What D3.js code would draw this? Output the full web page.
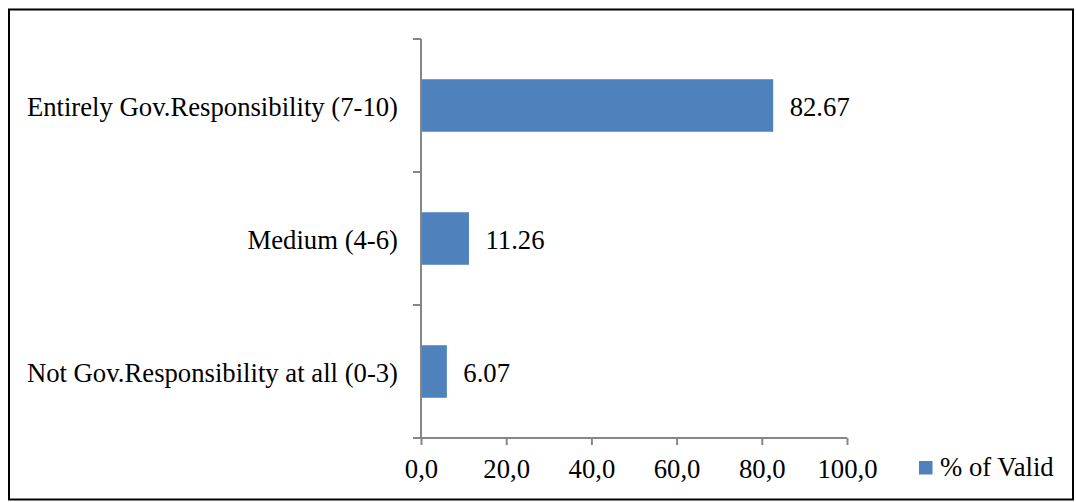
<!DOCTYPE html>
<html>
<head>
<meta charset="utf-8">
<script src="https://cdn.jsdelivr.net/npm/d3@7"></script>
<style>
  html, body { margin: 0; padding: 0; background: #fff; }
  svg { display: block; }
  svg text { font-family: "Liberation Serif", "Times New Roman", serif !important; fill: #000; }
</style>
</head>
<body>
<svg id="chart" width="1076" height="502"></svg>
<script>
// Responses, top to bottom
const categories = [
  "Entirely Gov.Responsibility (7-10)",
  "Medium (4-6)",
  "Not Gov.Responsibility at all (0-3)"
];
const values = [82.67, 11.26, 6.07];
const valueLabels = ["82.67", "11.26", "6.07"];
const xTicks = [0, 20, 40, 60, 80, 100];
const xTickLabels = ["0,0", "20,0", "40,0", "60,0", "80,0", "100,0"];
const seriesName = "% of Valid";

const svg = d3.select("#chart");
const barColor = "#4f81bd";
const axisColor = "#868686";
const fontSize = 26.7;

// outer frame
svg.append("rect")
  .attr("x", 9).attr("y", 9.5)
  .attr("width", 1064).attr("height", 490)
  .attr("fill", "none").attr("stroke", "#000").attr("stroke-width", 2);

const plot = { left: 421, right: 847, top: 39, bottom: 438 };

const x = d3.scaleLinear().domain([0, 100]).range([plot.left, plot.right]);
const y = d3.scaleBand().domain(categories).range([plot.top, plot.bottom]).padding(0);

const barH = y.bandwidth() * 0.395;

// bars
svg.append("g").selectAll("rect")
  .data(categories)
  .join("rect")
  .attr("x", x(0))
  .attr("y", d => y(d) + (y.bandwidth() - barH) / 2)
  .attr("width", (d, i) => x(values[i]) - x(0))
  .attr("height", barH)
  .attr("fill", barColor);

// value labels
svg.append("g").selectAll("text")
  .data(categories)
  .join("text")
  .attr("x", (d, i) => x(values[i]) + 16.5)
  .attr("y", d => y(d) + y.bandwidth() / 2)
  .attr("dy", "0.38em")
  .attr("font-size", fontSize)
  .text((d, i) => valueLabels[i]);

// y axis: line with ticks at band boundaries
const yAxis = svg.append("g").attr("stroke", axisColor).attr("stroke-width", 2);
yAxis.append("line")
  .attr("x1", plot.left).attr("x2", plot.left)
  .attr("y1", plot.top).attr("y2", plot.bottom);
const bounds = categories.map(d => y(d)).concat([plot.bottom]);
yAxis.selectAll("line.tick")
  .data(bounds)
  .join("line")
  .attr("class", "tick")
  .attr("x1", plot.left - 8).attr("x2", plot.left)
  .attr("y1", d => d).attr("y2", d => d);

// category labels
svg.append("g").selectAll("text")
  .data(categories)
  .join("text")
  .attr("x", plot.left - 23)
  .attr("y", d => y(d) + y.bandwidth() / 2)
  .attr("dy", "0.38em")
  .attr("text-anchor", "end")
  .attr("font-size", fontSize)
  .text(d => d);

// x axis
const xAxis = d3.axisBottom(x)
  .tickValues(xTicks)
  .tickSize(7)
  .tickSizeOuter(0)
  .tickPadding(14.5)
  .tickFormat((d, i) => xTickLabels[i]);
const gx = svg.append("g")
  .attr("transform", `translate(0,${plot.bottom})`)
  .call(xAxis)
  .attr("font-size", fontSize);
gx.select(".domain").attr("stroke", axisColor).attr("stroke-width", 2)
  .attr("d", `M${plot.left - 8},0H${plot.right}`);
gx.selectAll(".tick line").attr("stroke", axisColor).attr("stroke-width", 2);
gx.selectAll(".tick text").attr("fill", "#000");

// legend
const legend = svg.append("g").attr("transform", "translate(919,461)");
legend.append("rect").attr("width", 13.5).attr("height", 13.5).attr("fill", barColor);
legend.append("text")
  .attr("x", 21).attr("y", 15)
  .attr("font-size", fontSize)
  .text(seriesName);
</script>
</body>
</html>
